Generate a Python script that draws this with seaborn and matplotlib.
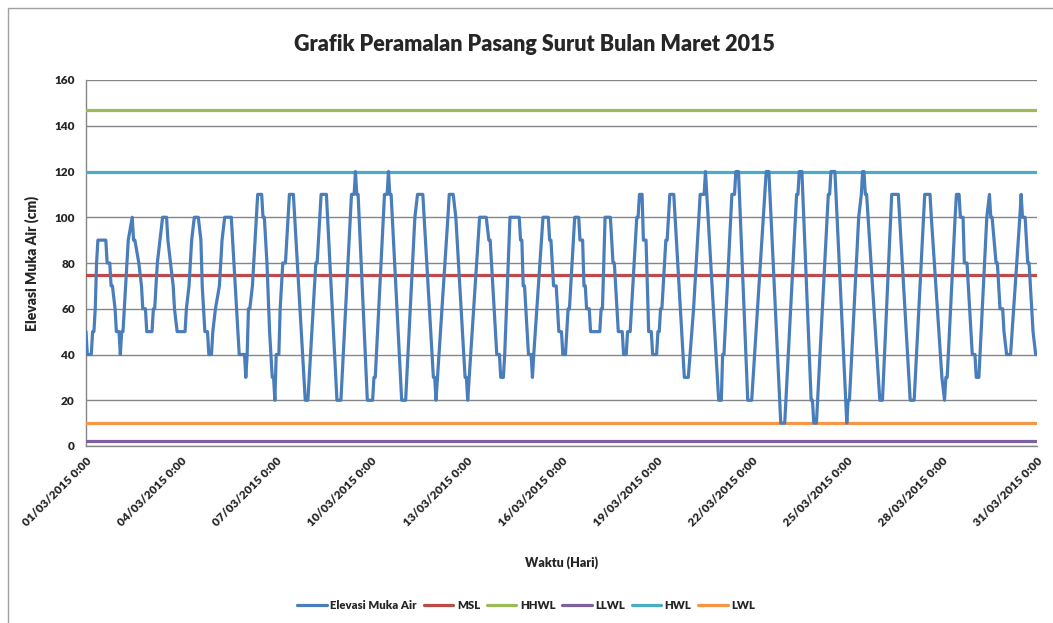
import numpy as np
import pandas as pd
import matplotlib
matplotlib.use('Agg')
import matplotlib.pyplot as plt
import seaborn as sns
from matplotlib.patches import Rectangle

# jam ke- (dari 01/03/2015 0:00) dan elevasi muka air (cm), titik belok
jam = [0, 1, 4, 5, 6, 7, 8, 9, 15, 16, 18, 19, 20, 22, 23, 25, 26, 27, 28, 30, 32, 35, 36, 37, 40, 42, 43, 45, 46, 50,
       51, 52, 54, 56, 58, 61, 62, 64, 66, 67, 69, 75, 76, 78, 80, 82, 85, 87, 88, 89, 90, 92, 93, 95, 96, 98, 101, 102,
       103, 105, 110, 111, 116, 120, 121, 122, 123, 124, 126, 127, 129, 130, 133, 134, 135, 137, 139, 140, 141, 142,
       143, 144, 146, 147, 149, 151, 153, 154, 157, 158, 166, 168, 174, 175, 177, 178, 182, 190, 193, 201, 203, 204,
       205, 206, 213, 217, 218, 219, 226, 228, 229, 230, 231, 239, 242, 249, 251, 255, 256, 263, 264, 265, 274, 275,
       278, 280, 287, 288, 289, 298, 303, 305, 306, 311, 313, 314, 316, 317, 321, 328, 329, 330, 331, 332, 335, 337,
       338, 339, 346, 350, 351, 352, 354, 356, 357, 358, 360, 361, 363, 365, 366, 370, 373, 374, 376, 377, 378, 379,
       381, 382, 389, 390, 391, 393, 397, 399, 400, 402, 403, 406, 407, 409, 410, 412, 413, 417, 418, 419, 421, 422,
       424, 426, 428, 429, 432, 433, 434, 435, 436, 439, 440, 442, 445, 453, 456, 460, 465, 468, 469, 470, 479, 481,
       482, 483, 489, 491, 492, 494, 501, 504, 515, 517, 526, 529, 538, 539, 540, 542, 549, 550, 551, 553, 562, 563,
       564, 567, 576, 577, 578, 585, 587, 588, 589, 590, 591, 601, 603, 610, 615, 623, 624, 627, 635, 639, 640, 648,
       650, 651, 652, 658, 659, 661, 662, 664, 665, 667, 671, 673, 674, 676, 682, 684, 685, 686, 689, 690, 692, 694,
       695, 697, 700, 707, 708, 709, 711, 713, 714, 716, 717, 719, 720]
elevasi = [50, 40, 40, 50, 50, 60, 80, 90, 90, 80, 80, 70, 70, 60, 50, 50, 40, 50, 50, 70, 90, 100, 90, 90, 80, 70, 60,
           60, 50, 50, 60, 60, 80, 90, 100, 100, 90, 80, 70, 60, 50, 50, 60, 70, 90, 100, 100, 90, 70, 60, 50, 50, 40,
           40, 50, 60, 70, 80, 90, 100, 100, 90, 40, 40, 30, 40, 60, 60, 70, 80, 100, 110, 110, 100, 100, 80, 50, 40,
           30, 30, 20, 40, 40, 60, 80, 80, 100, 110, 110, 100, 20, 20, 80, 80, 100, 110, 110, 20, 20, 110, 110, 120,
           110, 110, 20, 20, 30, 30, 110, 110, 120, 110, 110, 20, 20, 100, 110, 110, 100, 30, 30, 20, 100, 110, 110,
           100, 30, 30, 20, 100, 100, 90, 90, 40, 40, 30, 30, 40, 100, 100, 90, 90, 70, 70, 40, 40, 30, 40, 100, 100,
           90, 90, 70, 70, 60, 50, 50, 40, 40, 60, 60, 100, 100, 90, 90, 70, 70, 60, 60, 50, 50, 60, 60, 100, 100, 80,
           80, 60, 50, 50, 40, 40, 50, 50, 60, 100, 100, 110, 110, 90, 90, 50, 50, 40, 40, 50, 50, 60, 60, 90, 90, 110,
           110, 30, 30, 60, 110, 110, 120, 110, 20, 20, 40, 40, 110, 110, 120, 120, 20, 20, 120, 120, 10, 10, 110, 110,
           120, 120, 20, 20, 10, 10, 110, 110, 120, 120, 10, 20, 20, 100, 110, 120, 120, 110, 110, 20, 20, 110, 110, 30,
           20, 20, 110, 110, 100, 30, 20, 30, 30, 100, 110, 110, 100, 100, 80, 80, 40, 40, 30, 30, 100, 110, 100, 100,
           80, 80, 60, 60, 50, 40, 40, 100, 110, 100, 100, 80, 80, 60, 50, 40, 40]

# garis acuan (cm)
acuan_nama = ['MSL', 'HHWL', 'LLWL', 'HWL', 'LWL']
acuan_nilai = [74.6, 147, 2.4, 120, 10]

tick_jam = [0, 72, 144, 216, 288, 360, 432, 504, 576, 648, 720]
tick_label = ['01/03/2015 0:00', '04/03/2015 0:00', '07/03/2015 0:00', '10/03/2015 0:00', '13/03/2015 0:00',
              '16/03/2015 0:00', '19/03/2015 0:00', '22/03/2015 0:00', '25/03/2015 0:00', '28/03/2015 0:00',
              '31/03/2015 0:00']

warna_acuan = ['#BE4B48', '#9BBB59', '#7D60A0', '#4BACC6', '#F79646']

sns.set_style('white')
plt.rcParams['font.family'] = ['Lato', 'DejaVu Sans']

df = pd.DataFrame({'Jam': jam, 'Elevasi': elevasi})

fig = plt.figure(figsize=(10.53, 6.23), dpi=100)
ax = fig.add_axes([86 / 1053, 1 - 446 / 623, (1037 - 86) / 1053, (446 - 80) / 623])

sns.lineplot(data=df, x='Jam', y='Elevasi', ax=ax, color='#4A7EBB', linewidth=2.3,
             label='Elevasi Muka Air', zorder=5)
for nama, nilai, w in zip(acuan_nama, acuan_nilai, warna_acuan):
    ax.axhline(nilai, color=w, linewidth=2.3, label=nama, zorder=4)

ax.set_xlim(0, 720)
ax.set_ylim(0, 160)
ax.set_yticks(range(0, 161, 20))
ax.set_xticks(tick_jam)
ax.set_xticklabels(tick_label, rotation=45, ha='right', rotation_mode='anchor')
for lb in ax.get_xticklabels() + ax.get_yticklabels():
    lb.set_fontweight('heavy')
    lb.set_fontsize(8.5)
ax.tick_params(axis='x', length=4, color='#868686', pad=3)
ax.tick_params(axis='y', length=4, color='#868686', pad=4)
ax.grid(axis='y', color='#868686', linewidth=1)
for s in ['top', 'right']:
    ax.spines[s].set_visible(False)
for s in ['left', 'bottom']:
    ax.spines[s].set_color('#868686')
    ax.spines[s].set_linewidth(1)

ax.set_xlabel('Waktu (Hari)', fontsize=9, fontweight='heavy', labelpad=20)
ax.set_ylabel('Elevasi Muka Air (cm)', fontsize=10, fontweight='heavy', labelpad=11)
fig.text(0.508, 0.928, 'Grafik Peramalan Pasang Surut Bulan Maret 2015', ha='center', va='center',
         fontsize=15.5, fontweight='heavy')

ax.legend(loc='center', bbox_to_anchor=(0.463, -0.435), ncol=6, frameon=False,
          prop={'weight': 'heavy', 'size': 8.2}, handlelength=2.6, columnspacing=0.6, handletextpad=0.3)

fig.patches.append(Rectangle((8 / 1053, -0.05), 1.1, 1.05 - 8 / 623, transform=fig.transFigure,
                             fill=False, edgecolor='#A0A0A0', linewidth=1))

fig.savefig('out.png', dpi=100)
